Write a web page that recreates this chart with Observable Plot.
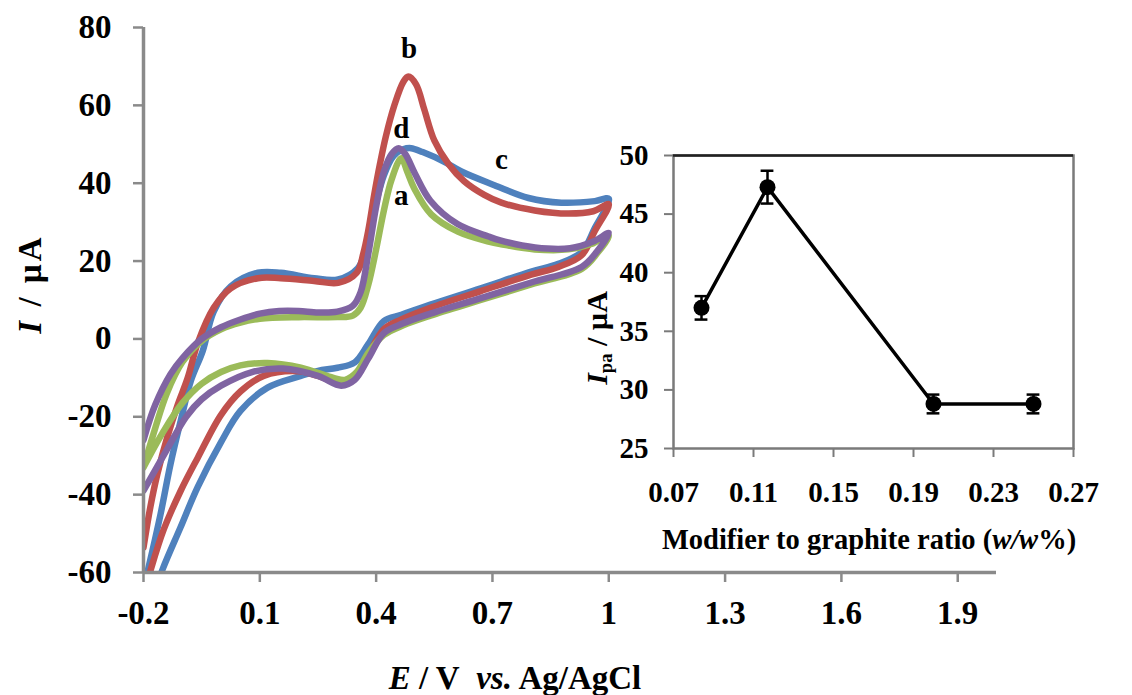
<!DOCTYPE html>
<html><head><meta charset="utf-8">
<script src="https://cdn.jsdelivr.net/npm/d3@7"></script>
<script src="https://cdn.jsdelivr.net/npm/@observablehq/plot@0.6"></script>
<style>
body{margin:0;background:#fff;}
#wrap{position:relative;width:1132px;height:695px;overflow:hidden;font-family:'Liberation Serif','Times New Roman',Times,'Tinos','DejaVu Serif Condensed','DejaVu Serif','Noto Serif',serif;font-weight:bold;color:#000;}
#wrap svg{position:absolute;}
.lbl{position:absolute;white-space:nowrap;line-height:1;}
</style></head><body><div id="wrap"></div>
<script>
// ---- Main CV data (E / V vs Ag/AgCl, I / µA), forward then return sweep ----
const seriesNames = ["a", "b", "c", "d"];
const seriesColors = ["#9BBB59", "#C0504D", "#4F81BD", "#8064A2"];

const aE = [-0.2,-0.17,-0.14,-0.1,-0.05,0.0,0.05,0.1,0.2,0.3,0.34,0.36,0.38,0.4,0.42,0.44,0.465,0.48,0.498,0.542,0.612,0.69,0.723,0.809,0.896,0.955,1.0,
            0.97,0.93,0.8,0.67,0.54,0.47,0.42,0.38,0.35,0.32,0.29,0.206,0.12,0.05,0.0,-0.05,-0.1,-0.15,-0.2];
const aI = [-33,-23,-14,-6,-0.5,2.5,4.2,5.2,5.6,5.6,6,8,14,23,33,41,46.4,43,38.7,32,27.5,25,24.3,23,23,24.4,26.5,
            22,18,14,10,6,3.5,1,-3.5,-8.5,-10.5,-10,-7.4,-6.2,-6.8,-8.5,-11.5,-16.5,-24,-33];

const bE = [-0.2,-0.182,-0.164,-0.138,-0.112,-0.086,-0.06,-0.019,0.025,0.095,0.154,0.24,0.302,0.35,0.367,0.38,0.395,0.41,0.425,0.447,0.47,0.483,0.503,0.524,0.55,0.586,0.627,0.679,0.723,0.809,0.896,0.96,1.0,
            0.964,0.93,0.87,0.8,0.67,0.54,0.465,0.42,0.38,0.345,0.3,0.25,0.2,0.11,0.05,0.0,-0.06,-0.104,-0.148,-0.182,-0.2];
const bI = [-53.6,-43,-34.6,-25,-17,-10,-1,8,13,15.6,15.6,14.9,14.4,17,22,28,37,45,52,60,66,67.4,65.4,59,51,45,40.5,37,35,33,32.2,32.8,34.6,
            27.7,21.5,18.5,16.5,12.3,8,5,2.5,-4,-9.5,-11,-9.5,-8.3,-9.5,-13.5,-19.5,-30.5,-39,-49,-59.5,-66];

const cE = [-0.2,-0.187,-0.156,-0.13,-0.104,-0.078,-0.047,-0.019,0.025,0.095,0.154,0.24,0.302,0.353,0.37,0.395,0.42,0.445,0.47,0.49,0.52,0.576,0.62,0.705,0.793,0.878,0.964,1.0,
            0.964,0.93,0.87,0.8,0.67,0.54,0.465,0.42,0.38,0.345,0.3,0.25,0.206,0.12,0.05,0.0,-0.06,-0.105,-0.15,-0.175];
const cI = [-64,-58.7,-45,-32,-21,-10.8,-3,7,13.5,17,17,15.6,15.3,18.2,22,33,42,47,48.7,49,48,45.5,43,39.5,36.2,35,35.4,36,
            28.5,22.3,19.3,17.3,13,8.8,6.2,4.6,-1.3,-6,-7.4,-8.2,-9.5,-12.5,-18.5,-26.5,-38,-48.5,-59,-66];

const dE = [-0.2,-0.17,-0.13,-0.1,-0.05,0.0,0.05,0.1,0.15,0.2,0.25,0.3,0.34,0.36,0.38,0.4,0.42,0.44,0.458,0.475,0.5,0.54,0.61,0.69,0.72,0.81,0.9,0.96,1.0,
            0.97,0.93,0.8,0.67,0.54,0.47,0.42,0.38,0.345,0.31,0.25,0.16,0.08,0.0,-0.05,-0.09,-0.14,-0.2];
const dI = [-26,-17,-9,-5,0,3,5,6.5,7.2,7.2,6.8,7,8.5,12,22,34,43,47.5,49,47.5,42.5,35.5,29.5,26.3,25.3,23.5,23.3,25,27.2,
            22.5,18.5,14.5,10.5,6.5,4,1.5,-5,-10.5,-12,-9.5,-7.6,-8.5,-12,-15.5,-20,-28.5,-39];

// curve label anchor positions (data units)
const labelText = ["b", "d", "c", "a"];
const labelE = [0.485, 0.465, 0.723, 0.465];
const labelI = [74.5, 54, 46, 36.7];

// main axes ticks
const xTicks = [-0.2, 0.1, 0.4, 0.7, 1, 1.3, 1.6, 1.9];
const yTicks = [-60, -40, -20, 0, 20, 40, 60, 80];

// ---- Inset data ----
const ratio = [0.084, 0.117, 0.2, 0.25];
const ipa = [37.0, 47.3, 28.8, 28.8];
const ipaErr = [1.0, 1.4, 0.8, 0.8];
const insetXTicks = [0.07, 0.11, 0.15, 0.19, 0.23, 0.27];
const insetYTicks = [25, 30, 35, 40, 45, 50];

// ---- build ----
const FONT = "'Liberation Serif','Times New Roman',Times,'Tinos','DejaVu Serif Condensed','DejaVu Serif','Noto Serif',serif";
const curves = {a: [aE, aI], b: [bE, bI], c: [cE, cI], d: [dE, dI]};
const rows = k => curves[k][0].map((e, i) => ({E: e, I: curves[k][1][i]}));
const colorOf = k => seriesColors[seriesNames.indexOf(k)];
const drawOrder = ["c", "b", "a", "d"];
const AX = "#8a8a8a";

const mainSvg = Plot.plot({
  width: 1132, height: 695,
  marginLeft: 143, marginRight: 136, marginTop: 27, marginBottom: 123,
  x: {domain: [-0.2, 2.0]},
  y: {domain: [-60, 80]},
  style: {fontFamily: FONT, fontWeight: "bold", fontSize: "33px", color: "#000", background: "#fff", overflow: "visible"},
  marks: [
    ...drawOrder.map(k => Plot.line(rows(k), {x: "E", y: "I", stroke: colorOf(k), strokeWidth: 6.5, curve: "catmull-rom", clip: true, strokeLinejoin: "round", strokeLinecap: "round"})),
    Plot.ruleX([-0.2], {stroke: AX, strokeWidth: 3.5}),
    Plot.ruleY([-60], {stroke: AX, strokeWidth: 3.5}),
    Plot.axisY({ticks: yTicks, tickFormat: d => String(d), tickSize: 10, tickPadding: 22, stroke: AX, strokeWidth: 2.5, fill: "#000", label: null}),
    Plot.axisX({ticks: xTicks, tickFormat: d => String(d), tickSize: 10, tickPadding: 18, stroke: AX, strokeWidth: 2.5, fill: "#000", label: null}),
    Plot.text(labelText, {x: (d, i) => labelE[i], y: (d, i) => labelI[i], text: d => d, fontSize: 29, fontWeight: "bold", fill: "#000"})
  ]
});
mainSvg.style.left = "0px"; mainSvg.style.top = "0px";

const insetRows = ratio.map((r, i) => ({r, v: ipa[i], e: ipaErr[i]}));
const insetSvg = Plot.plot({
  width: 552, height: 440,
  marginLeft: 93, marginRight: 59, marginTop: 25, marginBottom: 122,
  x: {domain: [0.07, 0.27]},
  y: {domain: [25, 50]},
  style: {fontFamily: FONT, fontWeight: "bold", fontSize: "29px", color: "#000", background: "transparent", overflow: "visible"},
  marks: [
    Plot.frame({stroke: "#7a7a7a", strokeWidth: 2.5}),
    Plot.ruleY([50], {stroke: "#222", strokeWidth: 2.5}),
    Plot.axisY({ticks: insetYTicks, tickSize: 9, tickPadding: 16, stroke: "#7a7a7a", strokeWidth: 2, fill: "#000", label: null}),
    Plot.axisX({ticks: insetXTicks, tickFormat: d => d.toFixed(2), tickSize: 9, tickPadding: 24, stroke: "#7a7a7a", strokeWidth: 2, fill: "#000", label: null}),
    Plot.line(insetRows, {x: "r", y: "v", stroke: "#000", strokeWidth: 3.5}),
    Plot.ruleX(insetRows, {x: "r", y1: d => d.v - d.e, y2: d => d.v + d.e, stroke: "#000", strokeWidth: 2.5}),
    Plot.ruleY(insetRows, {x1: d => d.r - 0.0032, x2: d => d.r + 0.0032, y: d => d.v + d.e, stroke: "#000", strokeWidth: 2.5}),
    Plot.ruleY(insetRows, {x1: d => d.r - 0.0032, x2: d => d.r + 0.0032, y: d => d.v - d.e, stroke: "#000", strokeWidth: 2.5}),
    Plot.dot(insetRows, {x: "r", y: "v", r: 8, fill: "#000"})
  ]
});
insetSvg.style.left = "580px"; insetSvg.style.top = "130px";

const wrap = document.getElementById("wrap");
wrap.append(mainSvg, insetSvg);

function addLabel(html, css) {
  const d = document.createElement("div");
  d.className = "lbl";
  d.innerHTML = html;
  Object.assign(d.style, css);
  wrap.append(d);
}
// main axis titles
addLabel('<i>I</i> / µA', {left: "30px", top: "284px", fontSize: "33px", letterSpacing: "3px", transform: "translate(-50%,-50%) rotate(-90deg)"});
addLabel('<i>E</i> / V&nbsp; <i>vs.</i> Ag/AgCl', {left: "515px", top: "678px", fontSize: "33px", transform: "translate(-50%,-50%)"});
// inset axis titles
addLabel('<i>I</i><sub style="font-size:0.62em;vertical-align:-0.25em">pa</sub> / µA', {left: "599px", top: "338px", fontSize: "30px", transform: "translate(-50%,-50%) rotate(-90deg)"});
addLabel('Modifier to graphite ratio (<i>w/w</i>%)', {left: "869px", top: "540px", fontSize: "28.5px", transform: "translate(-50%,-50%)"});
</script>
</body></html>
